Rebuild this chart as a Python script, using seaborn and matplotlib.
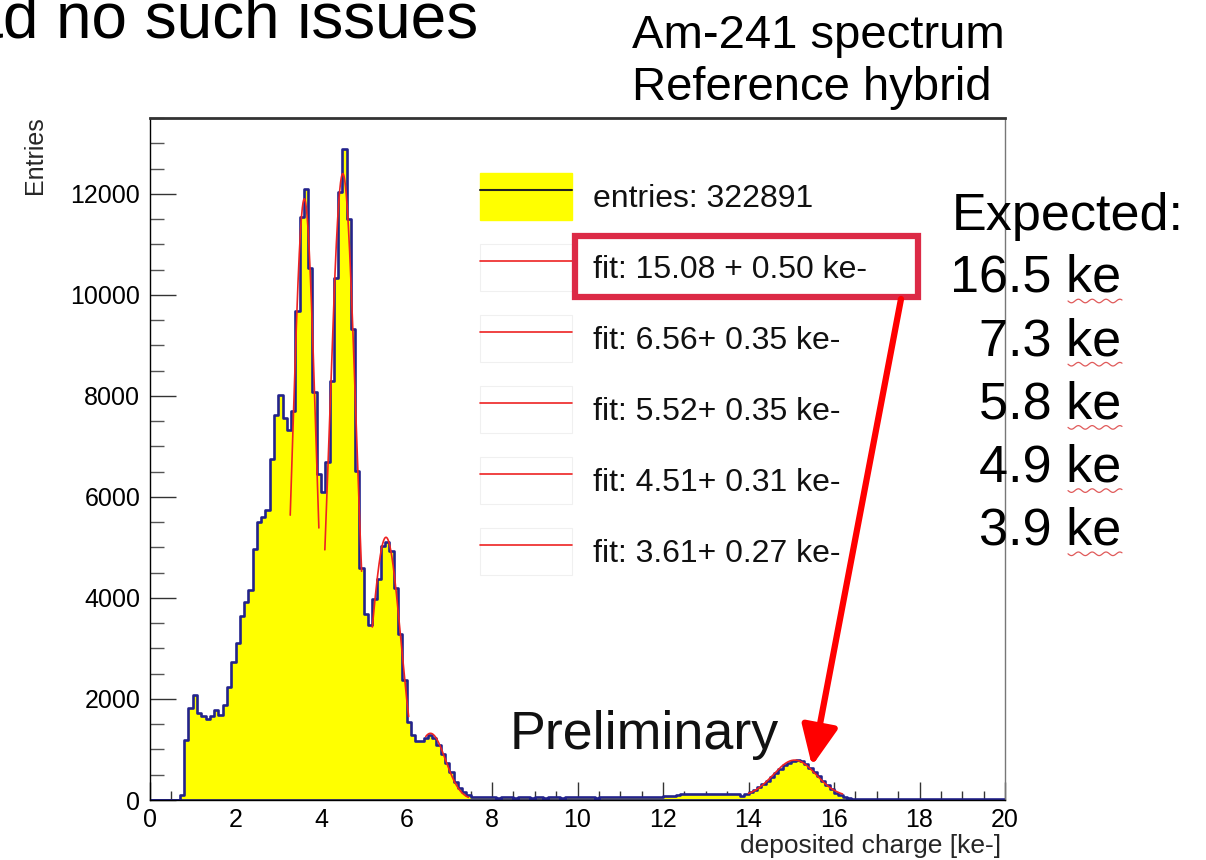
import numpy as np
import pandas as pd
import matplotlib
matplotlib.use("Agg")
import matplotlib.pyplot as plt
from matplotlib.patches import Patch, Rectangle, FancyArrowPatch
from matplotlib.lines import Line2D
from matplotlib.ticker import MultipleLocator
import seaborn as sns

# ---------------- data ----------------
bin_lo, bin_hi, n_bins = 0.0, 20.0, 200
counts = [
    0, 0, 0, 0, 0, 0, 0, 100, 1190, 1825,                       # 0.0-0.9
    2080, 1730, 1660, 1600, 1660, 1780, 1690, 1890, 2235, 2740,  # 1.0-1.9
    3100, 3650, 3920, 4150, 4970, 5500, 5610, 5750, 6750, 7620,  # 2.0-2.9
    8010, 7570, 7330, 7710, 9670, 11540, 12100, 10540, 8080, 6450,  # 3.0-3.9
    6100, 6690, 8300, 10330, 12030, 12880, 11500, 9330, 6520, 4590,  # 4.0-4.9
    3680, 3470, 3970, 4380, 5020, 5110, 4930, 4200, 3285, 2370,  # 5.0-5.9
    1550, 1280, 1170, 1170, 1230, 1280, 1230, 1095, 910, 730,    # 6.0-6.9
    550, 365, 230, 155, 90, 60, 55, 52, 50, 54,                  # 7.0-7.9
    50, 48, 52, 55, 50, 47, 52, 56, 50, 48,                      # 8.0-8.9
    52, 50, 46, 50, 55, 52, 48, 50, 53, 50,                      # 9.0-9.9
    50, 52, 55, 50, 48, 52, 56, 55, 58, 55,                      # 10.0-10.9
    56, 60, 58, 55, 60, 62, 58, 60, 65, 66,                      # 11.0-11.9
    70, 75, 85, 100, 110, 112, 115, 118, 115, 112,               # 12.0-12.9
    115, 118, 116, 114, 116, 118, 112, 115, 80, 120,             # 13.0-13.9
    165, 200, 250, 310, 380, 450, 540, 620, 690, 740,            # 14.0-14.9
    780, 790, 770, 720, 640, 560, 470, 380, 290, 215,            # 15.0-15.9
    145, 95, 60, 40, 28, 20, 16, 14, 13, 12,                     # 16.0-16.9
    12, 12, 11, 12, 12, 11, 12, 12, 11, 12,                      # 17.0-17.9
    12, 11, 12, 12, 11, 12, 12, 11, 12, 12,                      # 18.0-18.9
    11, 12, 12, 11, 12, 12, 11, 12, 12, 11,                      # 19.0-19.9
]

fit_mean = [15.08, 6.56, 5.52, 4.51, 3.61]
fit_sigma = [0.50, 0.35, 0.35, 0.31, 0.27]
fit_amp = [730, 1320, 5200, 12400, 11900]
fit_offset = [60, 0, 0, 0, 0]
fit_lo = [14.0, 6.45, 5.20, 4.09, 3.28]
fit_hi = [16.2, 7.45, 6.05, 4.95, 3.95]
fit_labels = ["fit: 15.08 + 0.50 ke-", "fit: 6.56+ 0.35 ke-", "fit: 5.52+ 0.35 ke-",
              "fit: 4.51+ 0.31 ke-", "fit: 3.61+ 0.27 ke-"]
hist_label = "entries: 322891"

x_ticks = [0, 2, 4, 6, 8, 10, 12, 14, 16, 18, 20]
y_ticks = [0, 2000, 4000, 6000, 8000, 10000, 12000]

expected_vals = ["16.5 ke", "7.3 ke", "5.8 ke", "4.9 ke", "3.9 ke"]

# ---------------- figure ----------------
W, H = 1206, 860
sns.set_theme(style="ticks")
plt.rcParams["font.family"] = ["Liberation Sans", "DejaVu Sans"]

fig = plt.figure(figsize=(W / 100, H / 100), dpi=100)
fig.patch.set_facecolor("white")


def fx(px):
    return np.asarray(px) / W


def fy(py):
    return 1 - np.asarray(py) / H


ax = fig.add_axes([fx(150), fy(800), fx(1005) - fx(150), fy(118) - fy(800)])
ax.set_facecolor("white")

edges = np.linspace(bin_lo, bin_hi, n_bins + 1)
hist_df = pd.DataFrame({"charge": 0.5 * (edges[:-1] + edges[1:]), "entries": counts})
sns.histplot(data=hist_df, x="charge", weights="entries", bins=list(edges), element="step", fill=True,
             facecolor="#ffff00", edgecolor="#23238c", linewidth=1.9, alpha=1,
             ax=ax, zorder=2)

fit_color = "#ee2222"
for m, s, a, o, lo, hi in zip(fit_mean, fit_sigma, fit_amp, fit_offset, fit_lo, fit_hi):
    xs = np.linspace(lo, hi, 200)
    ys = a * np.exp(-0.5 * ((xs - m) / s) ** 2) + o
    sns.lineplot(x=xs, y=ys, color=fit_color, linewidth=1.2, ax=ax, zorder=3)

ax.set_xlim(0, 20)
ax.set_ylim(0, 13500)
ax.set_xticks(x_ticks)
ax.set_xticklabels([str(t) for t in x_ticks])
ax.set_yticks(y_ticks)
ax.set_yticklabels([str(t) for t in y_ticks])
ax.xaxis.set_minor_locator(MultipleLocator(0.5))
ax.yaxis.set_minor_locator(MultipleLocator(500))
ax.tick_params(axis="x", which="major", direction="in", length=13, width=1, labelsize=18, pad=6, colors="#333333", labelcolor="black")
ax.tick_params(axis="x", which="minor", direction="in", length=6.5, width=1, colors="#333333")
ax.tick_params(axis="y", which="major", direction="in", length=19, width=1, labelsize=18, pad=7, colors="#333333", labelcolor="black")
ax.tick_params(axis="y", which="minor", direction="in", length=10, width=1, colors="#555555")
ax.set_xlabel("")
ax.set_ylabel("")
for side, sp in ax.spines.items():
    sp.set_visible(True)
    sp.set_color("black")
    sp.set_linewidth(1.0)
ax.spines["top"].set_linewidth(2.0)
ax.spines["top"].set_color("#333333")
ax.spines["right"].set_color("#777777")

# axis titles (ROOT style)
fig.text(fx(35), fy(116), "Entries", rotation=90, ha="center", va="top", fontsize=18)
fig.text(fx(1001), fy(853), "deposited charge [ke-]", ha="right", va="baseline", fontsize=19)

# legend
hist_handle = (Patch(facecolor="#ffff00", edgecolor="#ffff00"), Line2D([], [], color="#222222", lw=1.5))
fit_handles = [(Patch(facecolor="white", edgecolor="#f0f0f0", lw=0.8), Line2D([], [], color=fit_color, lw=1.2))
               for _ in fit_labels]
leg = ax.legend([hist_handle] + fit_handles, [hist_label] + fit_labels,
                loc="upper left", bbox_to_anchor=(fx(480), fy(173)), bbox_transform=fig.transFigure,
                frameon=False, fontsize=23, handlelength=2.88, handleheight=1.88,
                handletextpad=0.66, labelspacing=0.755, borderpad=0, borderaxespad=0)
for t in leg.get_texts():
    t.set_color("#111111")

# Preliminary
fig.text(fx(510), fy(749), "Preliminary", ha="left", va="baseline", fontsize=38.8, color="#111111")

# slide texts
fig.text(fx(478), fy(37), "had no such issues", ha="right", va="baseline", fontsize=46, color="black")
fig.text(fx(632), fy(48), "Am-241 spectrum", ha="left", va="baseline", fontsize=34, color="black")
fig.text(fx(632), fy(100), "Reference hybrid", ha="left", va="baseline", fontsize=34, color="black")
fig.text(fx(952), fy(230), "Expected:", ha="left", va="baseline", fontsize=37.5, color="black", zorder=10)
base_y = 292
for i, v in enumerate(expected_vals):
    yb = base_y + i * 63.2
    fig.text(fx(1121), fy(yb), v, ha="right", va="baseline", fontsize=37.5, color="black", zorder=10)
    wx = np.linspace(1068, 1122, 60)
    wy = yb + 9 + 1.8 * np.sin((wx - 1068) / 2.2)
    fig.add_artist(Line2D(fx(wx), fy(wy), color="#e05a5a", lw=0.9, transform=fig.transFigure))

# highlight box and arrow
fig.add_artist(Rectangle((fx(575), fy(297)), fx(918) - fx(575), fy(236) - fy(297),
                         transform=fig.transFigure, fill=False, edgecolor="#dc2a46", linewidth=4.5, zorder=20))
fig.add_artist(FancyArrowPatch((fx(901), fy(299)), (fx(812), fy(766)), transform=fig.transFigure,
                               arrowstyle="-|>,head_length=1.1,head_width=0.5", mutation_scale=22,
                               color="#ff0000", linewidth=4.5, zorder=21, shrinkA=0, shrinkB=0))

fig.savefig("out.png", dpi=100, facecolor="white")
